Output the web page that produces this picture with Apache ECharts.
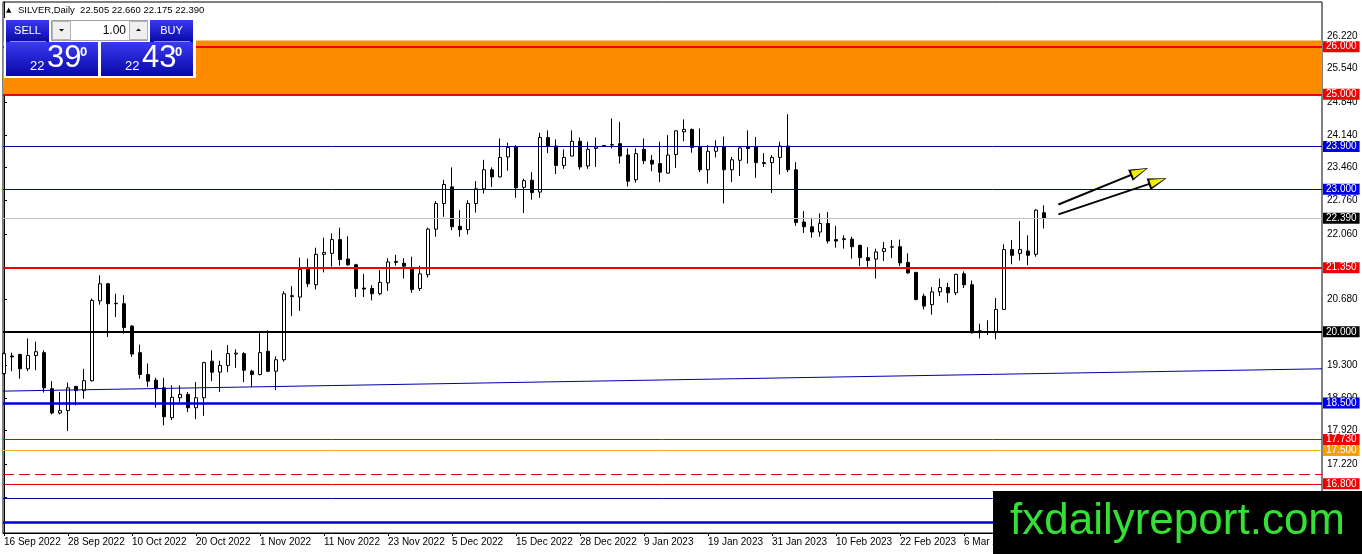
<!DOCTYPE html>
<html><head><meta charset="utf-8">
<script src="https://cdn.jsdelivr.net/npm/echarts@6/dist/echarts.min.js"></script>
<style>html,body{margin:0;padding:0;background:#fff;overflow:hidden}#c{width:1362px;height:554px}</style>
</head><body><div id="c"></div>
<script>
// ---------- data ----------
const tradingDays = [
  ['Sep 2022', [16,19,20,21,22,23,26,27,28,29,30]],
  ['Oct 2022', [3,4,5,6,7,10,11,12,13,14,17,18,19,20,21,24,25,26,27,28,31]],
  ['Nov 2022', [1,2,3,4,7,8,9,10,11,14,15,16,17,18,21,22,23,24,25,28,29,30]],
  ['Dec 2022', [1,2,5,6,7,8,9,12,13,14,15,16,19,20,21,22,23,27,28,29,30]],
  ['Jan 2023', [2,3,4,5,6,9,10,11,12,13,16,17,18,19,20,23,24,25,26,27,30,31]],
  ['Feb 2023', [1,2,3,6,7,8,9,10,13,14,15,16,17,20,21,22,23,24,27,28]],
  ['Mar 2023', [1,2,3,6,7,8,9,10,13,14,15,16,17,20]]
];
const dates = [];
tradingDays.forEach(([m, ds]) => ds.forEach(d => dates.push(d + ' ' + m)));

const open = [19.12,19.49,19.52,19.22,19.50,19.56,18.80,18.29,18.34,18.85,18.76,18.97,20.65,21.01,20.59,20.59,20.12,19.56,19.10,18.98,
18.82,18.19,18.61,18.68,18.40,18.61,19.38,19.15,19.29,19.53,19.54,19.17,19.10,19.59,19.17,19.41,20.74,20.73,21.32,20.99,
21.63,21.65,21.94,21.53,21.41,20.92,20.91,20.80,21.03,21.46,21.44,21.34,20.91,21.20,22.16,22.70,23.05,22.22,22.15,22.70,
23.01,23.41,23.26,23.68,23.89,23.04,23.19,22.94,24.09,23.91,23.50,23.70,24.01,23.49,23.86,23.91,23.93,23.96,23.72,23.20,
23.84,23.61,23.54,23.34,23.73,24.21,24.26,23.89,23.41,23.80,23.89,23.41,23.61,23.89,23.89,23.56,23.56,23.67,23.91,23.41,
22.31,22.21,22.10,22.28,21.94,21.94,21.95,21.82,21.56,21.53,21.69,21.78,21.79,21.46,21.25,20.75,20.57,20.84,20.93,20.82,
21.22,20.99,20.01,20.00,20.00,20.47,21.73,21.65,21.70,21.63,22.505];
const high = [19.56,19.56,19.54,19.86,19.79,19.61,18.96,18.73,18.93,18.86,19.22,20.70,21.19,21.03,20.80,20.77,20.14,19.73,19.33,19.03,
19.03,18.87,18.87,18.73,18.94,19.37,19.61,19.39,19.72,19.63,19.57,19.20,20.00,20.03,19.48,20.85,20.96,21.56,21.54,21.77,
21.98,22.07,22.19,22.01,21.43,21.22,20.98,21.30,21.55,21.62,21.55,21.58,21.39,22.19,22.75,23.20,23.46,22.56,22.77,23.17,
23.62,23.46,24.07,23.98,23.93,23.22,23.36,24.19,24.24,24.05,23.84,24.24,24.09,24.00,24.09,23.93,24.49,24.42,23.86,23.86,
24.07,23.72,24.00,24.14,24.24,24.47,24.28,24.28,23.93,24.03,24.11,23.68,23.89,24.24,24.10,23.76,23.72,24.00,24.58,23.57,
22.54,22.40,22.49,22.52,22.23,22.03,22.00,21.83,21.78,21.75,21.89,21.93,21.94,21.65,21.26,20.80,20.94,21.12,21.03,21.22,
21.27,21.08,20.17,20.24,20.71,21.84,21.93,22.33,22.03,22.58,22.660];
const low = [19.10,19.17,19.01,19.17,19.19,18.72,18.26,18.26,17.91,18.45,18.59,18.95,20.57,19.89,20.31,19.96,19.47,19.01,18.84,18.40,
18.03,18.14,18.52,18.31,18.16,18.23,18.96,18.73,19.15,19.24,18.94,18.84,19.08,19.15,18.77,19.37,20.33,20.44,20.94,20.89,
21.25,21.37,21.39,21.39,20.73,20.73,20.66,20.77,20.86,21.39,21.12,20.82,20.86,21.14,22.00,22.42,22.14,22.00,22.05,22.51,
22.91,23.05,23.25,23.39,22.82,22.50,22.78,22.82,23.76,23.32,23.43,23.69,23.41,23.43,23.47,23.90,23.86,23.54,23.06,23.14,
23.53,23.38,23.15,23.33,23.45,24.01,23.77,23.36,23.12,23.67,22.70,23.15,23.28,23.54,23.24,23.47,22.92,23.31,23.36,22.23,
22.08,21.98,22.00,21.86,21.77,21.75,21.54,21.38,21.36,21.12,21.49,21.55,21.38,21.22,20.66,20.47,20.36,20.75,20.61,20.77,
20.92,19.96,19.86,19.93,19.84,20.46,21.42,21.50,21.40,21.58,22.175];
const close = [19.54,19.47,19.22,19.50,19.58,18.82,18.29,18.34,18.82,18.76,18.97,20.66,21.01,20.59,20.60,20.09,19.53,19.10,18.96,18.80,
18.21,18.62,18.68,18.40,18.61,19.35,19.15,19.29,19.54,19.55,19.19,19.10,19.56,19.17,19.41,20.80,20.76,21.31,21.01,21.63,
21.67,21.94,21.52,21.41,20.91,20.90,20.80,21.04,21.47,21.48,21.38,20.89,21.22,22.16,22.70,23.10,22.21,22.15,22.70,23.01,
23.41,23.26,23.67,23.88,23.03,23.18,22.93,24.09,23.91,23.50,23.67,24.01,23.47,23.84,23.89,23.92,23.94,23.70,23.17,23.75,
23.60,23.53,23.36,23.72,24.23,24.26,23.88,23.41,23.80,23.89,23.41,23.62,23.87,23.86,23.56,23.54,23.67,23.91,23.41,22.30,
22.21,22.10,22.28,21.91,21.91,21.96,21.79,21.56,21.50,21.68,21.75,21.79,21.45,21.24,20.68,20.54,20.84,20.93,20.82,21.21,
20.99,19.98,20.02,19.99,20.47,21.73,21.61,21.73,21.61,22.56,22.390];

const xTickIndex = [0,8,16,24,32,40,48,56,64,72,80,88,96,104,112,120,128];
const yTickValues = [26.22,25.54,24.84,24.14,23.46,22.76,22.06,21.36,20.68,19.99,19.30,18.60,17.92,17.22,16.52];

const resistanceZone = [25.0, 26.13];
const levelValues = [26.0, 25.0, 23.9, 23.0, 22.39, 21.35, 20.0, 18.5, 17.73, 17.5, 17.0, 16.8, 16.5, 16.0];
const trendLine = [[-0.125, 18.75], [164.75, 19.22]];
const arrowLines = [
  [[131.8, 22.68], [141.9, 23.37]],
  [[131.8, 22.47], [144.2, 23.17]]
];
const bidPrice = '22.390', askPrice = '22.430', lotSize = '1.00';

// ---------- styles ----------
const FONT = '"Liberation Sans", Arial, sans-serif';
const RED = '#f00000', THINRED = '#e00000', NAVY = '#0000a8', BLUE = '#0000d8';
const levelStyle = {
  '26': {c: RED, w: 2, bg: '#f00000'},
  '25': {c: RED, w: 2, bg: '#f00000'},
  '23.9': {c: NAVY, w: 1, bg: '#0000e6'},
  '23': {c: NAVY, w: 1, bg: '#0000e6'},
  '22.39': {c: '#c0c0c0', w: 1, bg: '#000000'},
  '21.35': {c: RED, w: 2, bg: '#f00000'},
  '20': {c: '#000000', w: 2, bg: '#000000'},
  '18.5': {c: BLUE, w: 2.5, bg: '#0000e6'},
  '17.73': {c: THINRED, w: 1, bg: '#f00000'},
  '17.5': {c: '#f0b020', w: 1, bg: '#f5a000'},
  '17': {c: THINRED, w: 1, dash: [11, 5]},
  '16.8': {c: THINRED, w: 1, bg: '#f00000'},
  '16.5': {c: NAVY, w: 1},
  '16': {c: BLUE, w: 2.5}
};

const levelLines = levelValues.map(v => {
  const s = levelStyle[String(v)];
  return {
    yAxis: v,
    lineStyle: {color: s.c, width: s.w, type: s.dash || 'solid', opacity: 1},
    label: s.bg ? {
      show: true, position: 'end', distance: 1, formatter: v.toFixed(3),
      backgroundColor: s.bg, color: '#fff', fontFamily: FONT, fontSize: 10,
      padding: [1, 3, 0, 3], lineHeight: 10
    } : {show: false}
  };
});

const candleData = dates.map((d, i) => [i, open[i], close[i], low[i], high[i]]);

const blueGrad = () => new echarts.graphic.LinearGradient(0, 0, 0, 1, [
  {offset: 0, color: '#3a3af0'}, {offset: 1, color: '#0808a8'}]);

function priceBox(x0, price) {
  const big = price.slice(3, 5), small = price.slice(0, 2), sup = price.slice(5, 6);
  return [
    {type: 'rect', z: 100, shape: {x: x0, y: 42, width: 92, height: 34}, style: {fill: blueGrad()}},
    {type: 'text', z: 101, x: x0 + 24, y: 66, style: {text: small, fill: '#fff', font: '13px ' + FONT, verticalAlign: 'middle', align: 'left'}},
    {type: 'text', z: 101, x: x0 + 41, y: 58, style: {text: big, fill: '#fff', font: '31px ' + FONT, verticalAlign: 'middle', align: 'left'}},
    {type: 'text', z: 101, x: x0 + 74, y: 52, style: {text: sup, fill: '#fff', font: 'bold 13px ' + FONT, verticalAlign: 'middle', align: 'left'}}
  ];
}

const graphics = [
  {type: 'text', z: 100, x: 6, y: 10, style: {text: '▲', fill: '#000', font: '7px "DejaVu Sans"', verticalAlign: 'middle'}},
  {type: 'text', z: 100, x: 18, y: 10, style: {text: 'SILVER,Daily  ' + [open[130], high[130], low[130], close[130]].map(v => v.toFixed(3)).join(' '),
    fill: '#000', font: '9.5px ' + FONT, verticalAlign: 'middle'}},
  {type: 'rect', z: 99, shape: {x: 4, y: 18, width: 192, height: 60}, style: {fill: '#fff'}},
  // sell / buy
  {type: 'rect', z: 100, shape: {x: 6, y: 20, width: 43, height: 22}, style: {fill: blueGrad()}},
  {type: 'rect', z: 100, shape: {x: 150, y: 20, width: 43, height: 22}, style: {fill: blueGrad()}},
  {type: 'line', z: 101, shape: {x1: 10, y1: 41.5, x2: 46, y2: 41.5}, style: {stroke: '#8c8cff', lineWidth: 1}},
  {type: 'line', z: 101, shape: {x1: 154, y1: 41.5, x2: 190, y2: 41.5}, style: {stroke: '#8c8cff', lineWidth: 1}},
  {type: 'text', z: 101, x: 27.5, y: 30.5, style: {text: 'SELL', fill: '#fff', font: '11px ' + FONT, align: 'center', verticalAlign: 'middle'}},
  {type: 'text', z: 101, x: 171.5, y: 30.5, style: {text: 'BUY', fill: '#fff', font: '11px ' + FONT, align: 'center', verticalAlign: 'middle'}},
  // spinner
  {type: 'rect', z: 100, shape: {x: 51.5, y: 20.5, width: 96, height: 20}, style: {fill: '#fff', stroke: '#a0a0a0', lineWidth: 1}},
  {type: 'rect', z: 100, shape: {x: 52.5, y: 21.5, width: 18, height: 18}, style: {fill: '#f0f0f0', stroke: '#b4b4b4', lineWidth: 1}},
  {type: 'rect', z: 100, shape: {x: 129.5, y: 21.5, width: 18, height: 18}, style: {fill: '#f0f0f0', stroke: '#b4b4b4', lineWidth: 1}},
  {type: 'polygon', z: 101, shape: {points: [[59, 29], [64, 29], [61.5, 31.5]]}, style: {fill: '#000'}},
  {type: 'polygon', z: 101, shape: {points: [[136, 31], [141, 31], [138.5, 28.5]]}, style: {fill: '#000'}},
  {type: 'text', z: 101, x: 126, y: 30.5, style: {text: lotSize, fill: '#000', font: '12px ' + FONT, align: 'right', verticalAlign: 'middle'}},
  ...priceBox(6, bidPrice),
  ...priceBox(101, askPrice),
  // watermark
  {type: 'rect', z: 110, shape: {x: 993, y: 491, width: 369, height: 63}, style: {fill: '#000'}},
  {type: 'text', z: 111, x: 1010, y: 522, style: {text: 'fxdailyreport.com', fill: '#35e035', font: '44px ' + FONT, verticalAlign: 'middle'}}
];

const chart = echarts.init(document.getElementById('c'), null, {renderer: 'canvas'});
chart.setOption({
  animation: false,
  backgroundColor: '#fff',
  grid: {left: 3, right: 40, top: 2, bottom: 21, containLabel: false, outerBoundsMode: 'none',
    show: true, borderColor: '#000', borderWidth: 1, backgroundColor: 'transparent'},
  xAxis: {
    type: 'value', min: -0.125, max: 164.75,
    splitLine: {show: false},
    axisLine: {show: true, lineStyle: {color: '#000', width: 1}},
    axisTick: {show: true, customValues: xTickIndex, length: 3, lineStyle: {color: '#000'}},
    axisLabel: {show: true, customValues: xTickIndex, formatter: v => dates[Math.round(v)] || '',
      align: 'left', margin: 4, color: '#000', fontFamily: FONT, fontSize: 10}
  },
  yAxis: {
    type: 'value', position: 'right', min: 15.7632, max: 26.9421, scale: true,
    splitLine: {show: false},
    axisLine: {show: true, lineStyle: {color: '#000', width: 1}},
    axisTick: {show: true, customValues: yTickValues, length: 3, lineStyle: {color: '#000'}},
    axisLabel: {show: true, customValues: yTickValues, formatter: v => v.toFixed(3),
      margin: 5, color: '#000', fontFamily: FONT, fontSize: 10}
  },
  series: [
    {
      type: 'candlestick', name: 'SILVER',
      data: candleData, encode: {x: 0, y: [1, 2, 3, 4]},
      barWidth: 4,
      itemStyle: {color: '#ffffff', color0: '#000000', borderColor: '#000000', borderColor0: '#000000', borderWidth: 1},
      z: 3,
      markArea: {silent: true, itemStyle: {color: '#ff8c00'},
        data: [[{yAxis: resistanceZone[0]}, {yAxis: resistanceZone[1]}]]},
      markLine: {silent: true, symbol: 'none', animation: false, z: 5,
        data: [
          ...levelLines,
          [{coord: trendLine[0], lineStyle: {color: NAVY, width: 1, type: 'solid'}, label: {show: false}},
           {coord: trendLine[1]}]
        ]}
    },
    {
      type: 'line', data: [], z: 6,
      markLine: {silent: true, animation: false, z: 6,
        data: arrowLines.map(a => [
          {coord: a[0], symbol: 'none', lineStyle: {color: '#000', width: 2, type: 'solid'}, label: {show: false}},
          {coord: a[1], symbol: 'triangle', symbolSize: [12, 19]}
        ])}
    },
    {
      type: 'line', data: [], z: 7,
      markLine: {silent: true, animation: false, z: 7,
        data: arrowLines.map(a => [
          {coord: a[0], symbol: 'none', lineStyle: {color: '#f0f000', width: 0.05, type: 'solid'}, label: {show: false}},
          {coord: a[1], symbol: 'triangle', symbolSize: [8, 15]}
        ])}
    }
  ],
  graphic: graphics
});
</script></body></html>
